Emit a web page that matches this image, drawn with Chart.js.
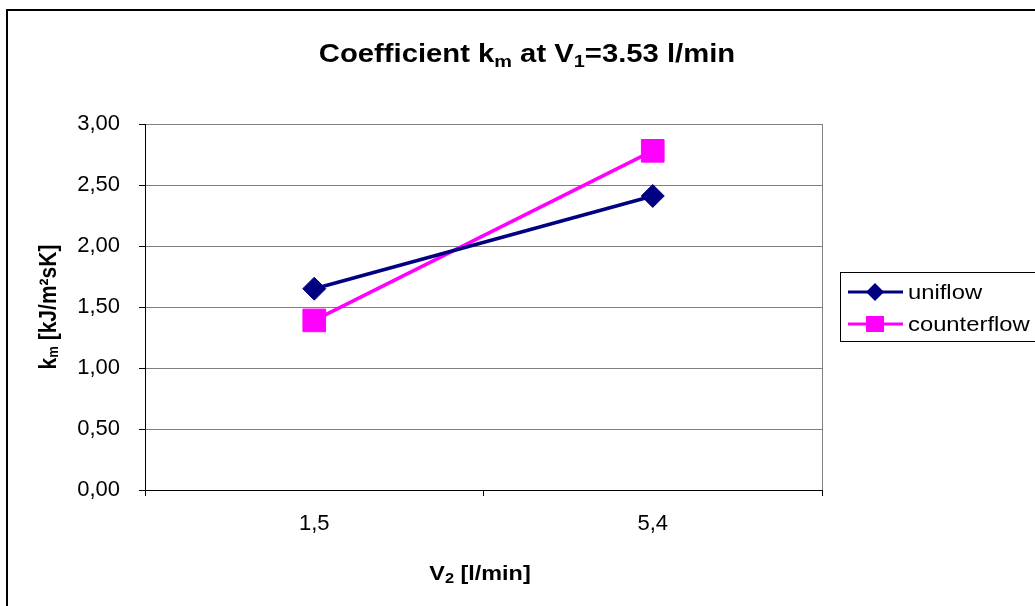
<!DOCTYPE html>
<html>
<head>
<meta charset="utf-8">
<script src="https://cdn.jsdelivr.net/npm/chart.js@4.4.1/dist/chart.umd.min.js"></script>
<style>
  html, body { margin: 0; padding: 0; background: #fff; }
  #wrap { width: 1035px; height: 606px; position: relative; }
</style>
</head>
<body>
<div id="wrap"><canvas id="c" width="1035" height="606"></canvas></div>
<script>
// ---- data ----
const categories = ['1,5', '5,4'];
const uniflow = [1.65, 2.41];
const counterflow = [1.39, 2.78];
const seriesNames = ['uniflow', 'counterflow'];
const yMin = 0, yMax = 3, yStep = 0.5;

const FONT = '"Liberation Sans", Arial, sans-serif';
const NAVY = '#000080';
const MAGENTA = '#FF00FF';

// draw text made of parts (with subscripts), horizontally stretched by sx
function drawRich(ctx, parts, cx, cy, sx, align) {
  let total = 0;
  parts.forEach(p => {
    ctx.font = (p.bold ? 'bold ' : '') + p.size + 'px ' + FONT;
    p.w = ctx.measureText(p.t).width;
    total += p.w;
  });
  ctx.save();
  const startX = align === 'center' ? cx - total * sx / 2 : cx;
  ctx.translate(startX, cy);
  ctx.scale(sx, 1);
  let x = 0;
  parts.forEach(p => {
    ctx.font = (p.bold ? 'bold ' : '') + p.size + 'px ' + FONT;
    ctx.textAlign = 'left';
    ctx.textBaseline = 'alphabetic';
    ctx.fillText(p.t, x, p.dy || 0);
    x += p.w;
  });
  ctx.restore();
}

const decor = {
  id: 'decor',
  afterDraw(chart) {
    const ctx = chart.ctx;
    const a = chart.chartArea;
    ctx.save();
    // outer chart border
    ctx.strokeStyle = '#000';
    ctx.lineWidth = 2;
    ctx.beginPath();
    ctx.moveTo(7, 620);
    ctx.lineTo(7, 10);
    ctx.lineTo(1040, 10);
    ctx.stroke();
    // right plot border
    ctx.strokeStyle = '#808080';
    ctx.lineWidth = 1;
    ctx.beginPath();
    ctx.moveTo(Math.round(a.right) + 0.5, a.top);
    ctx.lineTo(Math.round(a.right) + 0.5, a.bottom);
    ctx.stroke();

    ctx.fillStyle = '#000';
    // title
    drawRich(ctx, [
      { t: 'Coefficient k', size: 25, bold: true },
      { t: 'm', size: 17, bold: true, dy: 5 },
      { t: ' at V', size: 25, bold: true },
      { t: '1', size: 17, bold: true, dy: 5 },
      { t: '=3.53 l/min', size: 25, bold: true }
    ], 527, 62, 1.17, 'center');

    // x axis title
    drawRich(ctx, [
      { t: 'V', size: 20, bold: true },
      { t: '2', size: 14, bold: true, dy: 3 },
      { t: ' [l/min]', size: 20, bold: true }
    ], 480, 580, 1.17, 'center');

    // y axis title (rotated)
    ctx.save();
    ctx.translate(56, 307);
    ctx.rotate(-Math.PI / 2);
    ctx.scale(1, 1.17);
    drawRich(ctx, [
      { t: 'k', size: 21, bold: true },
      { t: 'm', size: 13, bold: true, dy: 2 },
      { t: ' [kJ/m\u00B2sK]', size: 21, bold: true }
    ], 0, 0, 1, 'center');
    ctx.restore();

    // legend box
    ctx.strokeStyle = '#000';
    ctx.lineWidth = 1;
    ctx.strokeRect(840.5, 272.5, 210, 69);
    const rows = [
      { name: seriesNames[0], color: NAVY, y: 292, shape: 'diamond' },
      { name: seriesNames[1], color: MAGENTA, y: 324, shape: 'square' }
    ];
    rows.forEach(r => {
      ctx.strokeStyle = r.color;
      ctx.lineWidth = 3;
      ctx.beginPath();
      ctx.moveTo(848, r.y);
      ctx.lineTo(903, r.y);
      ctx.stroke();
      ctx.fillStyle = r.color;
      const mx = 875;
      if (r.shape === 'diamond') {
        ctx.beginPath();
        ctx.moveTo(mx, r.y - 9);
        ctx.lineTo(mx + 9, r.y);
        ctx.lineTo(mx, r.y + 9);
        ctx.lineTo(mx - 9, r.y);
        ctx.closePath();
        ctx.fill();
      } else {
        ctx.fillRect(mx - 9, r.y - 8, 18, 16);
      }
      ctx.fillStyle = '#000';
      drawRich(ctx, [{ t: r.name, size: 20, bold: false }], 908, r.y + 7, 1.19, 'left');
    });
    ctx.restore();
  }
};

new Chart(document.getElementById('c'), {
  type: 'line',
  data: {
    labels: categories,
    datasets: [
      {
        label: seriesNames[0],
        data: uniflow,
        borderColor: NAVY,
        backgroundColor: NAVY,
        borderWidth: 3.5,
        pointStyle: 'rectRot',
        pointRadius: 11.5,
        pointHoverRadius: 11.5,
        pointBorderWidth: 1,
        tension: 0
      },
      {
        label: seriesNames[1],
        data: counterflow,
        borderColor: MAGENTA,
        backgroundColor: MAGENTA,
        borderWidth: 3.5,
        pointStyle: 'rect',
        pointRadius: 16,
        pointHoverRadius: 16,
        pointBorderWidth: 1,
        tension: 0
      }
    ]
  },
  options: {
    responsive: false,
    animation: false,
    events: [],
    layout: { padding: { left: 0, top: 124, right: 213, bottom: 0 } },
    plugins: {
      legend: { display: false },
      title: { display: false },
      tooltip: { enabled: false }
    },
    scales: {
      x: {
        type: 'category',
        offset: true,
        grid: { offset: true, drawOnChartArea: false, drawTicks: true, tickLength: 6, tickColor: '#000' },
        border: { color: '#000', width: 1 },
        ticks: { color: '#000', font: { family: FONT, size: 22 }, padding: 15, maxRotation: 0 },
        afterFit(s) { s.height = 116; }
      },
      y: {
        min: yMin,
        max: yMax,
        ticks: {
          stepSize: yStep,
          color: '#000',
          font: { family: FONT, size: 22 },
          padding: 19,
          callback: v => Number(v).toFixed(2).replace('.', ',')
        },
        grid: { color: '#808080', tickLength: 6, tickColor: '#000' },
        border: { color: '#000', width: 1 },
        afterFit(s) { s.width = 145; }
      }
    }
  },
  plugins: [decor]
});
</script>
</body>
</html>
